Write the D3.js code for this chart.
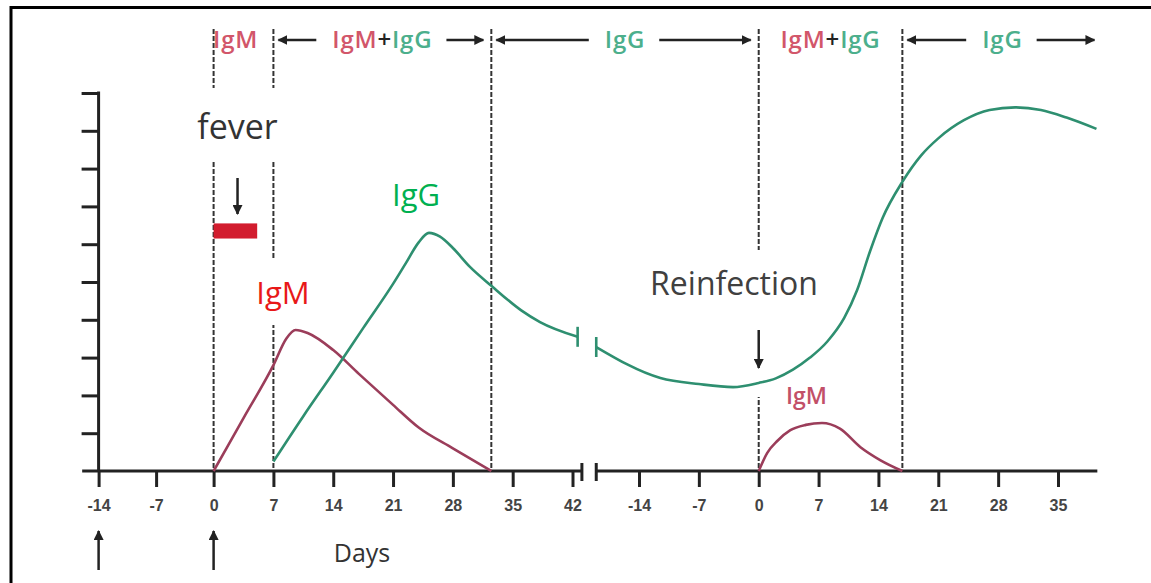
<!DOCTYPE html>
<html>
<head>
<meta charset="utf-8">
<script src="https://d3js.org/d3.v7.min.js"></script>
<style>
  body { margin: 0; background: #fff; }
  svg { display: block; }
  .tick text { font-family: "Liberation Sans", Arial, sans-serif; font-weight: bold; font-size: 16px; fill: #444; }
</style>
</head>
<body>
<div id="chart"></div>
<script>
// ticks (days) on the two pieces of the broken axis
const ticksBefore = [-14, -7, 0, 7, 14, 21, 28, 35, 42];
const ticksAfter = [-14, -7, 0, 7, 14, 21, 28, 35];
const levelTicks = [1, 2, 3, 4, 5, 6, 7, 8, 9, 10];

// antibody curves, [day, level]
const igmFirst = [[0, 0], [3.5, 1.4], [7, 2.8], [8.5, 3.5], [9.6, 3.73], [11, 3.65], [14, 3.2],
  [17, 2.57], [21, 1.75], [24, 1.15], [28, 0.6], [32.5, 0]];
const iggFirst = [[7, 0.25], [10.5, 1.45], [14, 2.6], [17.5, 3.78], [21, 4.95], [22.5, 5.5], [24, 6.05],
  [25.2, 6.3], [26.5, 6.2], [28, 5.9], [30, 5.4], [32.5, 4.9], [36, 4.25], [38.2, 3.94], [42.6, 3.55]];
const iggSecond = [[-19, 3.28], [-11.5, 2.46], [-7, 2.3], [-3, 2.22], [0, 2.33], [2, 2.45], [4, 2.68],
  [6, 3.0], [8, 3.42], [10, 4.05], [11.5, 4.78], [13, 5.8], [14.5, 6.7], [16.8, 7.65], [19, 8.35],
  [21, 8.8], [24, 9.28], [27, 9.55], [30, 9.62], [33, 9.55], [36, 9.35], [39.5, 9.05]];
const igmSecond = [[0, 0], [1, 0.48], [2.2, 0.8], [3.7, 1.08], [5.5, 1.22], [7.4, 1.27], [9.5, 1.12],
  [11.9, 0.63], [14.2, 0.29], [16.8, 0]];

// phase boundaries (days)
const phaseDaysFirst = [0, 7, 32.5];
const phaseDaysSecond = [0, 16.8];
const headerLabels = ["IgM", "IgM+IgG", "IgG", "IgM+IgG", "IgG"];
const headerArrows = [false, true, true, false, true];
const feverDays = [0, 5.1];
const feverLevels = [6.15, 6.55];

const W = 1151, H = 583;
const svg = d3.select("#chart").append("svg").attr("width", W).attr("height", H);

const x1 = d3.scaleLinear().domain([-14, 0, 42]).range([98.6, 213.6, 572.5]);
const x2 = d3.scaleLinear().domain([-14, 35]).range([639, 1058]);
const y = d3.scaleLinear().domain([0, 10]).range([471, 93]);

const ink = "#222";
const igmColor = "#9b3d5a", iggColor = "#2e8f70";
const hdrM = "#d2566a", hdrG = "#4caf8c";

const defs = svg.append("defs");
defs.append("marker").attr("id", "head").attr("viewBox", "0 0 10 10")
  .attr("refX", 9).attr("refY", 5).attr("markerWidth", 4).attr("markerHeight", 4)
  .attr("orient", "auto-start-reverse")
  .append("path").attr("d", "M0,0L10,5L0,10z").attr("fill", ink);

// frame
svg.append("line").attr("x1", 11).attr("x2", W).attr("y1", 7.5).attr("y2", 7.5).attr("stroke", "#000").attr("stroke-width", 3);
svg.append("line").attr("x1", 11).attr("x2", 11).attr("y1", 6).attr("y2", H).attr("stroke", "#000").attr("stroke-width", 3);

// phase lines
const bounds = phaseDaysFirst.map(d => x1(d)).concat(phaseDaysSecond.map(d => x2(d)));
svg.selectAll("line.phase").data(bounds).join("line")
  .attr("class", "phase")
  .attr("x1", d => d).attr("x2", d => d)
  .attr("y1", 29).attr("y2", y(0))
  .attr("stroke", "#333").attr("stroke-width", 2).attr("stroke-dasharray", "5,2");

// white label patches over the figure
const patches = [[115, 88, 185, 72], [235, 260, 123, 65], [372, 173, 108, 55], [628, 250, 214, 63],
  [752, 313, 13, 84]];
svg.selectAll("rect.patch").data(patches).join("rect")
  .attr("class", "patch")
  .attr("x", d => d[0]).attr("y", d => d[1]).attr("width", d => d[2]).attr("height", d => d[3])
  .attr("fill", "#fff");

// header
const hdr = svg.append("g").attr("font-family", "'Open Sans', sans-serif").attr("font-weight", 600)
  .attr("font-size", 24).attr("letter-spacing", 0.8);
const hdrBounds = bounds.concat([x2(40.2)]);
headerLabels.forEach((lab, i) => {
  const a = hdrBounds[i], b = hdrBounds[i + 1];
  const cx = i === 0 ? a + 22 : (a + b) / 2;
  const t = hdr.append("text").attr("x", cx).attr("y", 48).attr("text-anchor", "middle");
  lab.split("+").forEach((p, k) => {
    if (k > 0) t.append("tspan").attr("fill", ink).text("+");
    t.append("tspan").attr("fill", p === "IgM" ? hdrM : hdrG).text(p);
  });
  if (headerArrows[i]) {
    const w = t.node().getComputedTextLength();
    [[cx - w / 2 - 16, a + 5], [cx + w / 2 + 14, b - 8]].forEach(s => {
      hdr.append("line").attr("x1", s[0]).attr("x2", s[1]).attr("y1", 40).attr("y2", 40)
        .attr("stroke", ink).attr("stroke-width", 2.5).attr("marker-end", "url(#head)");
    });
  }
});

// axes
const axisG = svg.append("g");
axisG.append("line").attr("x1", x1(-16)).attr("x2", x1(43.1)).attr("y1", y(0)).attr("y2", y(0)).attr("stroke", ink).attr("stroke-width", 3);
axisG.append("line").attr("x1", x2(-19)).attr("x2", x2(39.6)).attr("y1", y(0)).attr("y2", y(0)).attr("stroke", ink).attr("stroke-width", 3);
[x1(43.1), x2(-19)].forEach(px => {
  axisG.append("line").attr("x1", px).attr("x2", px).attr("y1", y(0) - 8).attr("y2", y(0) + 10).attr("stroke", ink).attr("stroke-width", 3);
});
[[x1, ticksBefore], [x2, ticksAfter]].forEach(([sc, tv]) => {
  const g = svg.append("g").attr("transform", `translate(0,${y(0)})`)
    .call(d3.axisBottom(sc).tickValues(tv).tickSize(16).tickPadding(13).tickFormat(d => d < 0 ? "-" + Math.abs(d) : d));
  g.select(".domain").remove();
  g.selectAll(".tick line").attr("stroke", ink).attr("stroke-width", 3);
});
const yg = svg.append("g").attr("transform", `translate(${x1(-14)},0)`)
  .call(d3.axisLeft(y).tickValues(levelTicks).tickSize(17).tickFormat(""));
yg.select(".domain").remove();
yg.selectAll(".tick line").attr("stroke", ink).attr("stroke-width", 3);
yg.append("line").attr("x1", 0).attr("x2", 0).attr("y1", y(10) - 1.5).attr("y2", y(0)).attr("stroke", ink).attr("stroke-width", 3);

// curves
const curveLine = sc => d3.line().x(d => sc(d[0])).y(d => y(d[1])).curve(d3.curveMonotoneX);
const series = [[igmFirst, x1, igmColor], [iggFirst, x1, iggColor], [iggSecond, x2, iggColor], [igmSecond, x2, igmColor]];
series.forEach(([data, sc, col]) => {
  svg.append("path").datum(data).attr("d", curveLine(sc)).attr("fill", "none")
    .attr("stroke", col).attr("stroke-width", 2.6);
});
// curve break marks
[[x1, iggFirst[iggFirst.length - 1]], [x2, iggSecond[0]]].forEach(([sc, p]) => {
  svg.append("line").attr("x1", sc(p[0])).attr("x2", sc(p[0])).attr("y1", y(p[1]) - 10).attr("y2", y(p[1]) + 10)
    .attr("stroke", iggColor).attr("stroke-width", 2.6);
});

// fever bar
svg.append("rect").attr("x", x1(feverDays[0])).attr("width", x1(feverDays[1]) - x1(feverDays[0]))
  .attr("y", y(feverLevels[1])).attr("height", y(feverLevels[0]) - y(feverLevels[1])).attr("fill", "#d21c2e");

// arrows
const arrows = [[x1(2.8), 178, 214], [x2(0), 330, 368], [x1(-14), 570, 531], [x1(0), 570, 531]];
arrows.forEach(a => {
  svg.append("line").attr("x1", a[0]).attr("x2", a[0]).attr("y1", a[1]).attr("y2", a[2])
    .attr("stroke", ink).attr("stroke-width", 2.5).attr("marker-end", "url(#head)");
});

// annotations
const ann = svg.append("g").attr("font-family", "'Open Sans', sans-serif");
ann.append("text").attr("x", x1(2.8)).attr("y", 139).attr("text-anchor", "middle").attr("font-size", 34).attr("fill", "#333").text("fever");
ann.append("text").attr("x", 416).attr("y", 206).attr("text-anchor", "middle").attr("font-size", 31).attr("fill", "#00b050").text("IgG");
ann.append("text").attr("x", 283).attr("y", 304).attr("text-anchor", "middle").attr("font-size", 31).attr("fill", "#e81818").text("IgM");
ann.append("text").attr("x", 734).attr("y", 295).attr("text-anchor", "middle").attr("font-size", 32).attr("fill", "#404040").text("Reinfection");
ann.append("text").attr("x", 362).attr("y", 562).attr("text-anchor", "middle").attr("font-size", 25).attr("fill", "#333").text("Days");
ann.append("text").attr("x", 786).attr("y", 404).attr("font-size", 23).attr("font-weight", 600).attr("fill", "#c25068").text("IgM");
// patch trimming the small IgM label
svg.append("rect").attr("x", 827).attr("y", 375).attr("width", 68).attr("height", 32).attr("fill", "#fff");
</script>
</body>
</html>
